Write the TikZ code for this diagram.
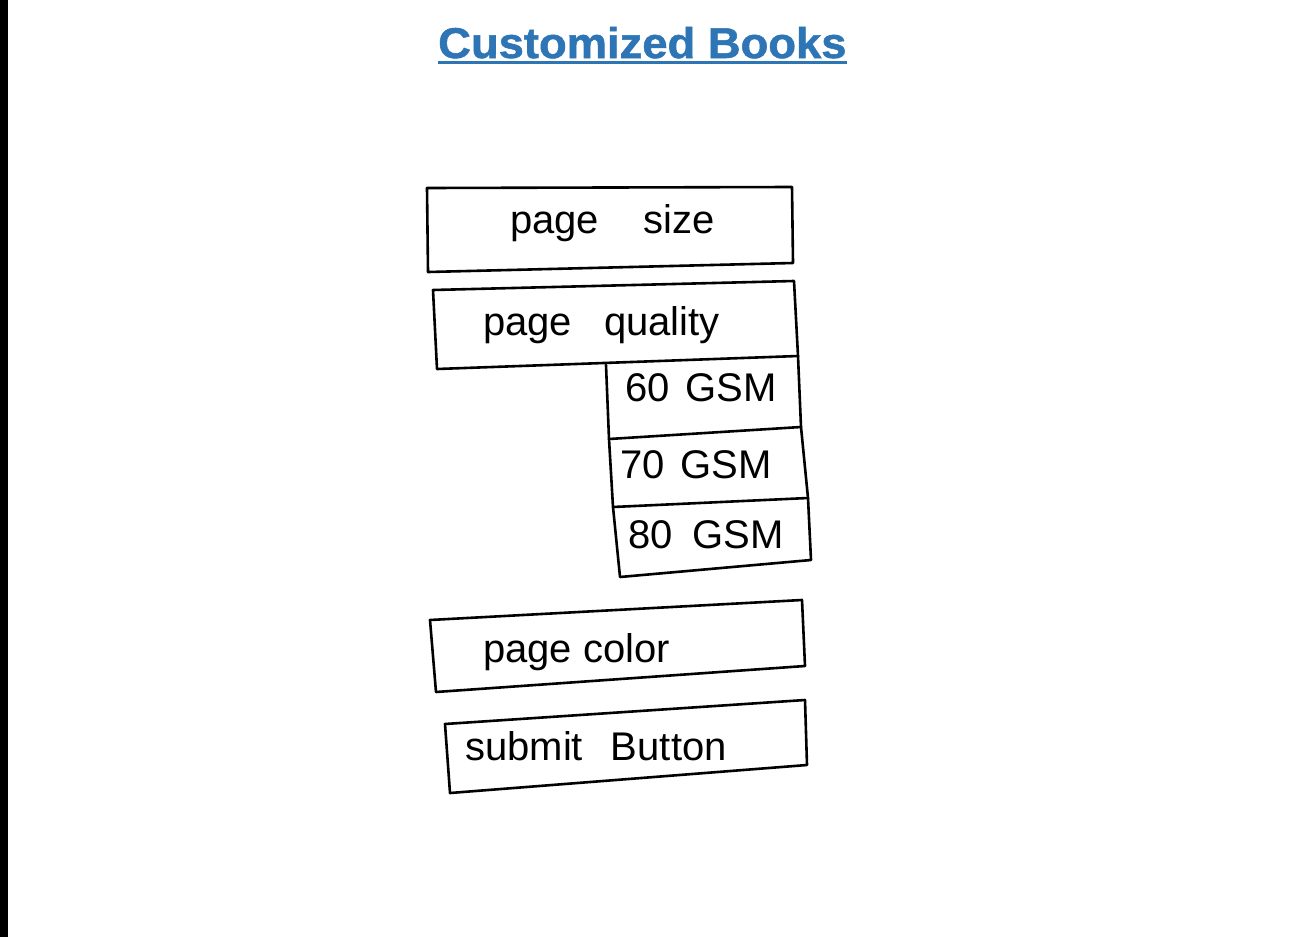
\documentclass[tikz,border=0pt]{standalone}
\usepackage{fontspec}
\setmainfont{Liberation Sans}
\newfontfamily\titlefont[BoldFeatures={FakeBold=1.2}]{Liberation Sans}
\definecolor{titleblue}{HTML}{2E75B6}
\begin{document}
\begin{tikzpicture}[x=1pt,y=-1pt,
  sketch/.style={draw=black,line width=2.6pt,line join=round,line cap=round},
  hand/.style={anchor=base west,inner sep=0pt,font=\fontsize{40}{40}\selectfont},
  heading/.style={anchor=base west,inner sep=0pt,text=titleblue,font=\fontsize{43}{43}\selectfont\titlefont\bfseries}]
% page frame and left edge strip
\useasboundingbox (0,0) rectangle (1293,937);
\fill[white] (0,0) rectangle (1293,937);
\fill[black] (0,0) rectangle (8,937);

% title with underline
\node[heading] (title) at (438,58) {\scalebox{1.055}[1]{Customized Books}};
\draw[titleblue,line width=2.4pt] (title.south west) ++(0,4) coordinate (ul1) -- (ul1 -| title.south east);

% corner points of the hand-drawn boxes
\coordinate (s1) at (427,188); \coordinate (s2) at (792,187);
\coordinate (s3) at (793,263); \coordinate (s4) at (428,272);
\coordinate (q1) at (433,290); \coordinate (q2) at (794,281);
\coordinate (q3) at (798,356); \coordinate (q4) at (437,369);
\coordinate (g1) at (606,365);
\coordinate (g2) at (801,427); \coordinate (g3) at (609,439);
\coordinate (h2) at (808,498); \coordinate (h3) at (613,507);
\coordinate (k2) at (811,560); \coordinate (k3) at (620,577);
\coordinate (c1) at (430,620); \coordinate (c2) at (802,600);
\coordinate (c3) at (805,666); \coordinate (c4) at (436,692);
\coordinate (b1) at (445,724); \coordinate (b2) at (805,700);
\coordinate (b3) at (807,765); \coordinate (b4) at (450,793);

% page size
\draw[sketch] (s1) -- (s2) -- (s3) -- (s4) -- cycle;
% page quality
\draw[sketch] (q1) -- (q2) -- (q3) -- (q4) -- cycle;
% GSM options stacked under page quality
\draw[sketch] (g1) -- (g3) -- (h3) -- (k3) -- (k2) -- (h2) -- (g2) -- (q3);
\draw[sketch] (g3) -- (g2);
\draw[sketch] (h3) -- (h2);
% page color
\draw[sketch] (c1) -- (c2) -- (c3) -- (c4) -- cycle;
% submit button
\draw[sketch] (b1) -- (b2) -- (b3) -- (b4) -- cycle;

% labels
\node[hand] (tsize) at (510,233) {page\hspace{1.1em}size};
\node[hand] (tquality) at (483,335) {page\hspace{0.8em}quality};
\node[hand] (t60) at (625,401) {60\hspace{0.4em}GSM};
\node[hand] (t70) at (620,478) {70\hspace{0.4em}GSM};
\node[hand] (t80) at (628,548) {80\hspace{0.5em}GSM};
\node[hand] (tcolor) at (483,662) {page color};
\node[hand] (tsubmit) at (465,760) {submit\hspace{0.7em}Button};
\end{tikzpicture}
\end{document}
